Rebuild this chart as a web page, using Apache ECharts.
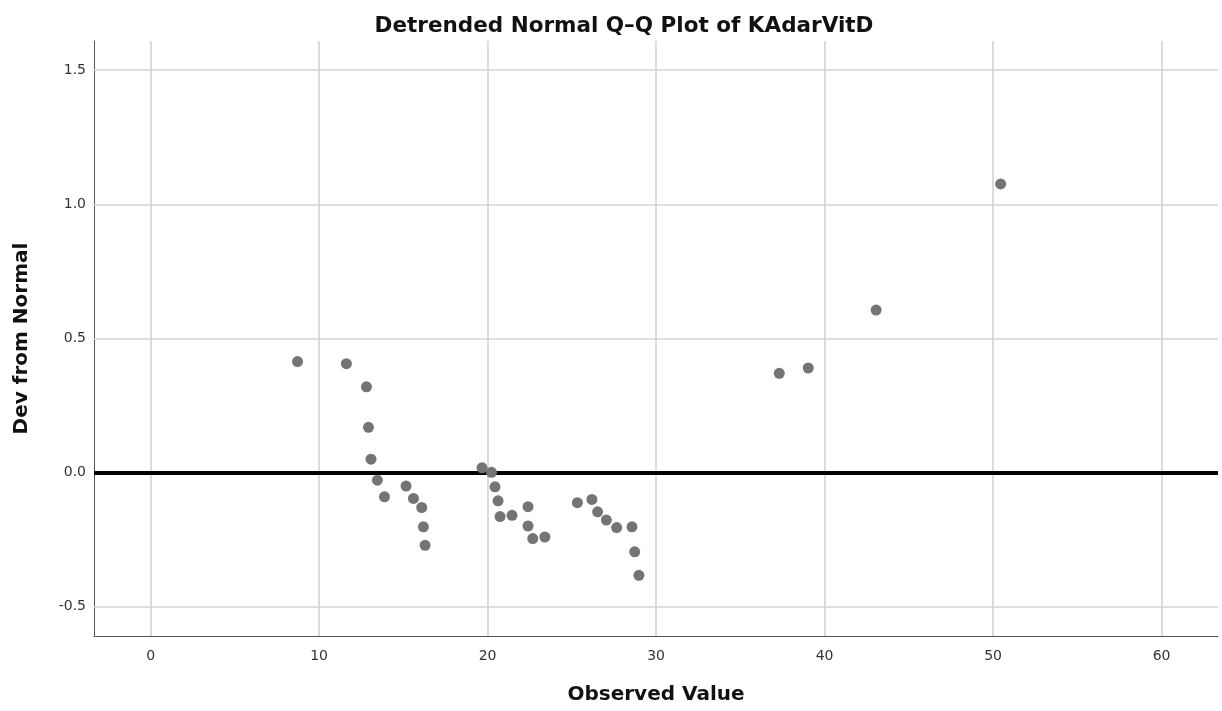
<!DOCTYPE html>
<html>
<head>
<meta charset="utf-8">
<script src="https://cdn.jsdelivr.net/npm/echarts@6/dist/echarts.min.js"></script>
<style>
html,body{margin:0;padding:0;background:#fff;}
#c{width:1222px;height:711px;}
</style>
</head>
<body>
<div id="c"></div>
<script>
const observed = [8.72, 11.62, 12.81, 12.93, 13.08, 13.46, 13.88, 15.16, 15.60, 16.09, 16.19, 16.29,
  19.67, 20.23, 20.44, 20.62, 20.74, 21.45, 22.40, 22.40, 22.68, 23.40,
  25.33, 26.19, 26.53, 27.05, 27.66, 28.57, 28.73, 28.98,
  37.31, 39.03, 43.06, 50.45];
const devFromNormal = [0.414, 0.406, 0.320, 0.169, 0.050, -0.028, -0.090, -0.050, -0.096, -0.130, -0.202, -0.271,
  0.018, 0.001, -0.053, -0.105, -0.164, -0.159, -0.127, -0.199, -0.246, -0.240,
  -0.112, -0.100, -0.146, -0.177, -0.205, -0.202, -0.295, -0.383,
  0.370, 0.390, 0.606, 1.076];
const xTicks = [0, 10, 20, 30, 40, 50, 60];
const yTicks = [-0.5, 0.0, 0.5, 1.0, 1.5];
const xRange = [-3.36, 63.35];
const yRange = [-0.609, 1.609];
const titleText = 'Detrended Normal Q\u2013Q Plot of KAdarVitD';
const xName = 'Observed Value';
const yName = 'Dev from Normal';

const points = observed.map((v, i) => [v, devFromNormal[i]]);
const gridColor = '#d3d3d3';
const font = 'DejaVu Sans';

const chart = echarts.init(document.getElementById('c'), null, {renderer: 'canvas'});
chart.setOption({
  animation: false,
  backgroundColor: '#ffffff',
  title: {
    text: titleText,
    left: 619, textAlign: 'center', top: 10,
    textStyle: {fontFamily: font, fontWeight: 'bold', fontSize: 21.5, color: '#111'}
  },
  grid: {left: 94, top: 41, right: 4, bottom: 75, containLabel: false, outerBoundsMode: 'none'},
  xAxis: {
    type: 'value', min: xRange[0], max: xRange[1],
    name: xName, nameLocation: 'middle', nameGap: 49,
    nameTextStyle: {fontFamily: font, fontWeight: 'bold', fontSize: 20, color: '#111'},
    axisLine: {show: true, onZero: false, lineStyle: {color: '#555', width: 1}},
    axisTick: {show: false},
    splitLine: {show: false},
    axisLabel: {customValues: xTicks, fontFamily: font, fontSize: 14, color: '#333', margin: 13,
      formatter: v => String(v)}
  },
  yAxis: {
    type: 'value', min: yRange[0], max: yRange[1],
    name: yName, nameLocation: 'middle', nameGap: 62,
    nameTextStyle: {fontFamily: font, fontWeight: 'bold', fontSize: 20, color: '#111'},
    axisLine: {show: true, onZero: false, lineStyle: {color: '#555', width: 1}},
    axisTick: {show: false},
    splitLine: {show: false},
    axisLabel: {customValues: yTicks, fontFamily: font, fontSize: 14, color: '#333', margin: 8,
      formatter: v => v.toFixed(1)}
  },
  series: [
    {
      type: 'scatter', data: [], z: 1, silent: true,
      markLine: {
        silent: true, symbol: ['none', 'none'], animation: false,
        label: {show: false},
        lineStyle: {color: gridColor, width: 1.6, type: 'solid'},
        data: xTicks.map(v => ({xAxis: v})).concat(yTicks.filter(v => v !== 0).map(v => ({yAxis: v})))
      }
    },
    {
      type: 'scatter', data: [], z: 2, silent: true,
      markLine: {
        silent: true, symbol: ['none', 'none'], animation: false,
        label: {show: false},
        lineStyle: {color: '#000', width: 4, type: 'solid'},
        data: [{yAxis: 0}]
      }
    },
    {
      type: 'scatter', data: points, z: 5,
      symbol: 'circle', symbolSize: 11,
      itemStyle: {color: '#747474', opacity: 1}
    }
  ]
});
</script>
</body>
</html>
